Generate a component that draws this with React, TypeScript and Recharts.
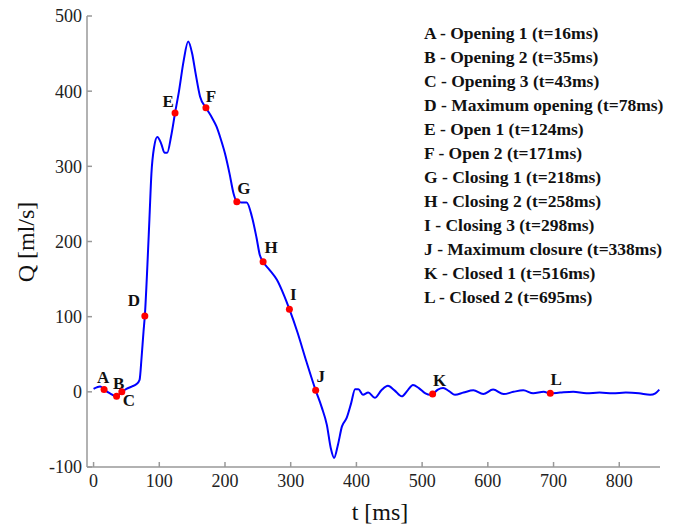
import React from "react"
import { ComposedChart, Line, Scatter, XAxis, YAxis } from "recharts"

// sampled flow curve (t in ms, Q in ml/s)
const curveT = [
  0, 5, 10, 16, 25, 35, 43, 50, 58, 65, 70, 73, 76, 78, 82, 85, 88, 92, 97, 103,
  108, 112, 118, 124, 130, 137, 144, 150, 155, 162, 171, 180, 187, 194, 200, 207,
  213, 218, 225, 233, 241, 248, 253, 258, 268, 279, 290, 298, 310, 324, 338, 347,
  355, 361, 366, 372, 378, 385, 392, 398, 403, 410, 418, 428, 438, 448, 458, 469,
  478, 486, 495, 505, 512, 516, 524, 532, 541, 550, 563, 578, 593, 608, 624, 639,
  654, 669, 685, 695, 710, 730, 750, 770, 790, 810, 830, 847, 855, 861,
]
const curveQ = [
  4, 6, 7, 3, -2, -6, 0, 4, 7, 10, 16, 45, 80, 101, 170, 230, 290, 325, 339, 330,
  318, 318, 340, 371, 400, 440, 466, 450, 425, 393, 378, 365, 353, 335, 317, 290,
  264, 253, 252, 252, 233, 205, 182, 173, 162, 149, 128, 110, 80, 40, 2, -20,
  -44, -75, -88, -70, -46, -35, -15, 3.5, 3.5, -4, -1, -8, 2, 8, 2, -6,
  2, 9, 5, -2, -4, -3, 3, 5, 1, -4, -1, 2, -3, 3, -3, 0,
  2, -2, 0, -2, -1, 0, -2, -1, -2, -1, -2, -4, -2, 3,
]

// marked events
const markerLabels = ["A", "B", "C", "D", "E", "F", "G", "H", "I", "J", "K", "L"]
const markerT = [16, 35, 43, 78, 124, 171, 218, 258, 298, 338, 516, 695]
const markerQ = [3, -6, 0, 101, 371, 378, 253, 173, 110, 2, -3, -2]

const legendLines = [
  "A - Opening 1 (t=16ms)",
  "B - Opening 2 (t=35ms)",
  "C - Opening 3 (t=43ms)",
  "D - Maximum opening (t=78ms)",
  "E - Open 1 (t=124ms)",
  "F - Open 2 (t=171ms)",
  "G - Closing 1 (t=218ms)",
  "H - Closing 2 (t=258ms)",
  "I - Closing 3 (t=298ms)",
  "J - Maximum closure (t=338ms)",
  "K - Closed 1 (t=516ms)",
  "L - Closed 2 (t=695ms)",
]

const xTicks = [0, 100, 200, 300, 400, 500, 600, 700, 800]
const yTicks = [-100, 0, 100, 200, 300, 400, 500]

// label placement relative to each dot
const labelOffsets: Record<string, [number, number]> = {
  A: [-1, -12],
  B: [2, -13],
  C: [7, 9],
  D: [-11, -15],
  E: [-7, -11],
  F: [5, -11],
  G: [7, -13],
  H: [8, -14],
  I: [4, -15],
  J: [5, -14],
  K: [7, -14],
  L: [6, -14],
}

const curve = curveT.map((t, i) => ({ t, q: curveQ[i] }))
const markers = markerT.map((t, i) => ({ t, q: markerQ[i], label: markerLabels[i] }))

const serif = "Liberation Serif, Times New Roman, serif"
const tickStyle = { fontFamily: serif, fontSize: 18, fill: "#222" }

const MarkerShape = (props: any) => {
  const { cx, cy, payload } = props
  const [dx, dy] = labelOffsets[payload.label] || [0, -12]
  return (
    <g>
      <circle cx={cx} cy={cy} r={3.5} fill="#ff0000" />
      <text
        x={cx + dx}
        y={cy + dy}
        textAnchor="middle"
        dominantBaseline="central"
        fontFamily={serif}
        fontWeight="bold"
        fontSize={17}
        fill="#111"
      >
        {payload.label}
      </text>
    </g>
  )
}

export default function App() {
  return (
    <div
      style={{
        position: "relative",
        width: 683,
        height: 526,
        margin: "-8px 0 0 -8px",
        background: "#fff",
      }}
    >
      <ComposedChart
        width={683}
        height={526}
        data={curve}
        margin={{ top: 16, right: 23, bottom: 29, left: 27 }}
      >
        <XAxis
          type="number"
          dataKey="t"
          domain={[-10, 862]}
          ticks={xTicks}
          allowDataOverflow
          height={30}
          stroke="#999"
          strokeWidth={1.5}
          tickSize={-5}
          tickMargin={12}
          tick={tickStyle}
        />
        <YAxis
          type="number"
          dataKey="q"
          domain={[-100, 500]}
          ticks={yTicks}
          allowDataOverflow
          width={60}
          stroke="#999"
          strokeWidth={1.5}
          tickSize={-5}
          tickMargin={10}
          tick={tickStyle}
        />
        <Line
          type="monotone"
          dataKey="q"
          stroke="#0000ff"
          strokeWidth={2}
          dot={false}
          activeDot={false}
          isAnimationActive={false}
        />
        <Scatter data={markers} shape={MarkerShape} isAnimationActive={false} />
      </ComposedChart>

      <div
        style={{
          position: "absolute",
          left: 424,
          top: 21,
          fontFamily: serif,
          fontWeight: "bold",
          fontSize: 17.5,
          lineHeight: "24px",
          color: "#111",
          whiteSpace: "nowrap",
        }}
      >
        {legendLines.map((s) => (
          <div key={s}>{s}</div>
        ))}
      </div>

      <div
        style={{
          position: "absolute",
          left: 380,
          top: 512,
          transform: "translate(-50%, -50%)",
          fontFamily: serif,
          fontSize: 24,
          color: "#111",
          whiteSpace: "nowrap",
        }}
      >
        t [ms]
      </div>
      <div
        style={{
          position: "absolute",
          left: 26,
          top: 242,
          transform: "translate(-50%, -50%) rotate(-90deg)",
          fontFamily: serif,
          fontSize: 24,
          color: "#111",
          whiteSpace: "nowrap",
        }}
      >
        Q [ml/s]
      </div>
    </div>
  )
}
